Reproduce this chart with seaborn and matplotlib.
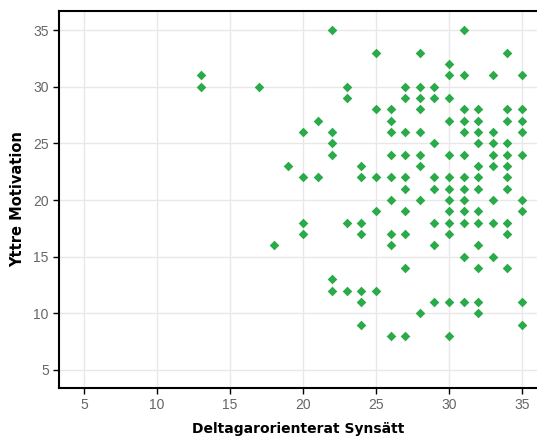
import pandas as pd
import seaborn as sns
import matplotlib.pyplot as plt

# Deltagarorienterat Synsätt (x) vs Yttre Motivation (y)
x_vals = [22, 13, 13, 17, 23, 23, 21, 20, 22, 22, 22, 19, 20, 21,
          20, 23, 20, 18, 22, 22, 23,
          31, 25, 28, 34, 30, 30, 31, 33, 35,
          27, 28, 29, 27, 28, 29, 30,
          25, 26, 28, 31, 32, 34, 35,
          26, 30, 31, 32, 34, 35,
          26, 27, 28, 31, 32, 33, 35,
          29, 32, 33, 34,
          26, 27, 28, 30, 31, 33, 34, 35,
          24, 28, 32, 33, 34,
          24, 25, 26, 27, 29, 30, 31, 32, 34,
          27, 29, 30, 31, 32, 34,
          26, 28, 30, 31, 33, 35,
          25, 27, 30, 31, 32, 35,
          24, 29, 30, 31, 32, 33, 34,
          24, 26, 27, 30, 34,
          26, 29, 32,
          31, 33,
          27, 32, 34,
          24, 25,
          24, 29, 30, 31, 32, 35,
          28, 32,
          24, 35,
          26, 27, 30]
y_vals = [35, 31, 30, 30, 30, 29, 27, 26, 26, 25, 24, 23, 22, 22,
          18, 18, 17, 16, 13, 12, 12,
          35, 33, 33, 33, 32, 31, 31, 31, 31,
          30, 30, 30, 29, 29, 29, 29,
          28, 28, 28, 28, 28, 28, 28,
          27, 27, 27, 27, 27, 27,
          26, 26, 26, 26, 26, 26, 26,
          25, 25, 25, 25,
          24, 24, 24, 24, 24, 24, 24, 24,
          23, 23, 23, 23, 23,
          22, 22, 22, 22, 22, 22, 22, 22, 22,
          21, 21, 21, 21, 21, 21,
          20, 20, 20, 20, 20, 20,
          19, 19, 19, 19, 19, 19,
          18, 18, 18, 18, 18, 18, 18,
          17, 17, 17, 17, 17,
          16, 16, 16,
          15, 15,
          14, 14, 14,
          12, 12,
          11, 11, 11, 11, 11, 11,
          10, 10,
          9, 9,
          8, 8, 8]

df = pd.DataFrame({'Deltagarorienterat Synsätt': x_vals, 'Yttre Motivation': y_vals})

sns.set_style('white')
plt.rcParams['font.family'] = ['Liberation Sans', 'DejaVu Sans']

fig = plt.figure(figsize=(5.37, 4.40), dpi=100)
ax = fig.add_axes([0.1104, 0.1182, 0.8896, 0.8568])

sns.scatterplot(data=df, x='Deltagarorienterat Synsätt', y='Yttre Motivation',
                marker='D', s=24, color='#2aab4a', linewidth=0, ax=ax, zorder=3)

ax.set_xlim(3.31, 36.03)
ax.set_ylim(3.41, 36.68)
ax.set_xticks([5, 10, 15, 20, 25, 30, 35])
ax.set_yticks([5, 10, 15, 20, 25, 30, 35])
ax.grid(True, color='#e8e8e8', linewidth=1)
ax.set_axisbelow(True)

for side in ['left', 'bottom', 'top']:
    ax.spines[side].set_color('black')
    ax.spines[side].set_linewidth(1.5)
ax.spines['right'].set_visible(False)

ax.tick_params(axis='both', direction='out', length=4, width=1, color='black',
               labelsize=10, labelcolor='#666666', bottom=True, left=True)

ax.set_xlabel('Deltagarorienterat Synsätt', fontsize=10, fontweight='bold',
              family='DejaVu Sans', color='black', labelpad=7)
ax.set_ylabel('Yttre Motivation', fontsize=10.5, fontweight='bold',
              family='DejaVu Sans', color='black', labelpad=6)

fig.savefig('out.png', dpi=100)
